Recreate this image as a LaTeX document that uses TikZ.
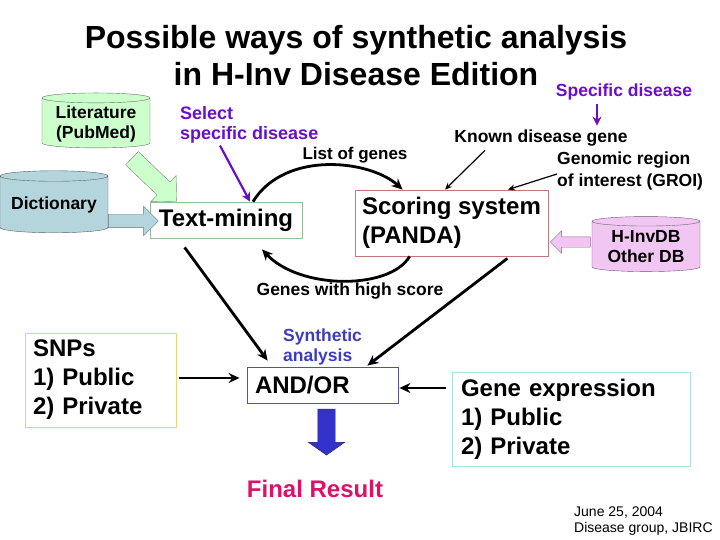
\documentclass[tikz,border=0pt]{standalone}
\usepackage{fontspec}
\setmainfont{Liberation Sans}
\usepackage{tikz}
\usetikzlibrary{arrows.meta,calc,positioning,shapes.geometric,shapes.arrows}
\usepackage{xcolor}
\definecolor{pickviolet}{HTML}{6A0DCC}
\definecolor{synblue}{HTML}{3C3CC0}
\definecolor{crimson}{HTML}{E0106A}
\definecolor{litgreen}{HTML}{CCFFCC}
\definecolor{dictblue}{HTML}{B5D5DC}
\definecolor{dbpink}{HTML}{F2C6F2}
\definecolor{downblue}{HTML}{3333CC}
\definecolor{txtframe}{HTML}{96BE96}
\definecolor{scoreframe}{HTML}{C07878}
\definecolor{andframe}{HTML}{5050B0}
\definecolor{snpframe}{HTML}{E6D57A}
\definecolor{geneframe}{HTML}{A8E4E4}

\begin{document}
\begin{tikzpicture}[x=1pt, y=-1pt,
  label/.style={inner sep=0pt, font=\fontsize{17.5}{21}\bfseries\selectfont},
  dbase/.style={cylinder, shape border rotate=90, aspect=0.12, draw=#1!45!black,
    cylinder uses custom fill, cylinder body fill=#1, cylinder end fill=#1,
    minimum width=108pt, minimum height=55pt, inner sep=1pt, align=center,
    font=\fontsize{17.5}{20}\bfseries\selectfont},
  stepbox/.style={draw=#1, line width=0.8pt, inner ysep=0pt,
    font=\fontsize{24}{29}\bfseries\selectfont},
  fatarrow/.style={single arrow, draw=#1!55!black, fill=#1, inner xsep=0pt,
    single arrow head indent=0pt},
  link/.style={-{Stealth[length=11pt,width=10pt]}, line width=2.8pt},
  thin/.style={-{Stealth[length=7pt,width=6pt]}, line width=1.2pt},
  pick/.style={-{Stealth[length=9pt,width=9pt]}, line width=2.2pt, draw=pickviolet}
]
\useasboundingbox (0,0) rectangle (720,540);

% title
\node[align=center, font=\fontsize{32}{37}\bfseries\selectfont] (title) at (356,56)
  {Possible ways of synthetic analysis\\in H-Inv Disease Edition};

% sources
\node[dbase=litgreen] (lit) at (96,123.5) {Literature\\(PubMed)};
\node[dbase=dictblue, minimum height=62pt] (dict) at (54,205) {Dictionary};
\node[dbase=dbpink] (hinv) at (646,247) {H-InvDB\\Other DB};

% main steps
\node[stepbox=txtframe, minimum width=152pt, minimum height=36pt]
  (txt) at (226,220) {Text-mining};
\node[stepbox=scoreframe, minimum height=66pt, minimum width=193pt,
  inner xsep=7pt, align=left] (score) at (451.5,223)
  {Scoring system\\(PANDA)};
\node[stepbox=andframe, minimum height=36pt,
  text width=135pt, inner xsep=8pt, align=left] (andor) at (322.5,385) {AND/OR};
\node[stepbox=snpframe, minimum height=94pt,
  text width=135pt, inner xsep=8pt, align=left] (snps) at (100.5,380)
  {SNPs\\1) Public\\2) Private};
\node[stepbox=geneframe, minimum height=94pt,
  text width=220pt, inner xsep=9pt, align=left] (gene) at (571,419)
  {Gene expression\\1) Public\\2) Private};

% block arrows
\node[fatarrow=litgreen, minimum height=62pt, inner ysep=9pt,
  single arrow head extend=9pt, rotate=-44] (litarr) at (151,176.5) {};
\node[fatarrow=dictblue, minimum height=50pt, inner ysep=6.5pt,
  single arrow head extend=8pt] (dictarr) at (130,221) {};
\node[fatarrow=dbpink, minimum height=40pt, inner ysep=5pt,
  single arrow head extend=6pt, rotate=180] (dbarr) at (573,242) {};
\node[fatarrow=downblue, minimum height=46pt, inner ysep=8.5pt,
  single arrow head extend=9.5pt, single arrow tip angle=110, rotate=-90]
  (downarr) at (326.5,429) {};

% labels
\node[label, text=pickviolet] (spec) at (624,92) {Specific disease};
\node[label, text=pickviolet, align=left, anchor=west,
  font=\fontsize{18}{20}\bfseries\selectfont] (select) at (180,125)
  {Select\\specific disease};
\node[label] (known) at (541,138) {Known disease gene};
\node[label, align=left, anchor=west, font=\fontsize{17.5}{22}\bfseries\selectfont]
  (groi) at (557,171) {Genomic region\\of interest (GROI)};
\node[label, font=\fontsize{17}{20}\bfseries\selectfont] (list) at (355,155) {List of genes};
\node[label] (high) at (350,291) {Genes with high score};
\node[label, text=synblue, align=left, anchor=west,
  font=\fontsize{17.5}{20}\bfseries\selectfont] (syn) at (283,347) {Synthetic\\analysis};
\node[label, text=crimson, font=\fontsize{24}{28}\bfseries\selectfont] (final) at (315,489) {Final Result};
\node[inner sep=0pt, align=left, anchor=west, font=\fontsize{14}{16}\selectfont]
  (date) at (574,521) {June 25, 2004\\Disease group, JBIRC};

% connectors
\draw[pick] ([xshift=-27pt,yshift=-4pt]spec.south) -- ([xshift=56pt,yshift=4pt]known.north);
\draw[pick] ([xshift=40pt,yshift=-2pt]select.south west) -- ([xshift=24pt]txt.north);
\draw[link] ([xshift=27pt]txt.north) .. controls (285,150) and (370,160) .. ([xshift=48pt]score.north west);
\draw[link] ([xshift=55pt]score.south west) .. controls (390,290) and (300,290) .. ([xshift=36pt,yshift=-11pt]txt.south);
\draw[thin] ([xshift=-56pt,yshift=-4pt]known.south) -- ([xshift=-6.5pt]score.north);
\draw[thin] ([yshift=-3pt]groi.west) -- ([xshift=56.5pt]score.north);
\draw[link] ([xshift=35pt,yshift=-9pt]txt.south west) -- ([xshift=21pt,yshift=6pt]andor.north west);
\draw[link] ([xshift=-41pt,yshift=-2pt]score.south east) -- ([xshift=-31pt,yshift=1pt]andor.north east);
\draw[link] ([xshift=3pt,yshift=2pt]snps.east) -- ([xshift=-7pt,yshift=7pt]andor.west);
\draw[link] ([xshift=-6pt,yshift=31pt]gene.west) -- ([xshift=1pt,yshift=-3pt]andor.east);
\end{tikzpicture}
\end{document}
